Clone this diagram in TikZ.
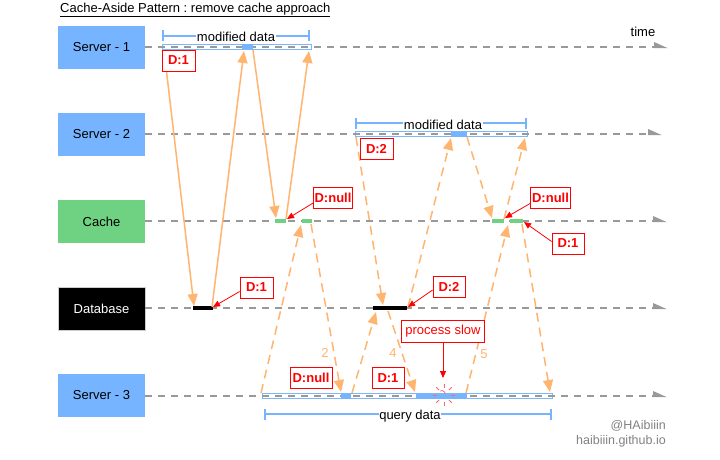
\documentclass[tikz,border=0pt]{standalone}
\usepackage{fontspec}
\setmainfont{Liberation Sans}
\usetikzlibrary{arrows.meta}
\frenchspacing
\definecolor{boxblue}{RGB}{118,180,255}
\definecolor{boxgreen}{RGB}{111,210,130}
\definecolor{flow}{RGB}{255,181,112}
\definecolor{lifegrey}{RGB}{153,153,153}
\definecolor{bandblue}{RGB}{126,182,250}
\definecolor{segblue}{RGB}{118,180,255}
\definecolor{alertred}{RGB}{255,0,0}
\definecolor{markgrey}{RGB}{130,130,130}
\tikzset{
  actor/.style={minimum width=87pt,minimum height=43pt,inner sep=0pt,font=\fontsize{13}{15}\selectfont},
  lifeline/.style={draw=lifegrey,line width=2pt,dash pattern=on 7pt off 6pt},
  lifetip/.style={fill=lifegrey},
  band/.style={draw=bandblue,fill=white,line width=1pt},
  seg/.style={fill=segblue},
  cachebar/.style={fill=boxgreen},
  dbbar/.style={fill=black},
  bracket/.style={draw=segblue,line width=2.8pt,{Bar[width=11pt,line width=2pt]}-{Bar[width=11pt,line width=2pt]}},
  brtext/.style={fill=white,inner sep=0.5pt,font=\fontsize{13}{15}\selectfont},
  callsolid/.style={draw=flow,line width=1.5pt,-{Triangle[length=12pt,width=10pt]}},
  calldash/.style={draw=flow,line width=1.5pt,dash pattern=on 9pt off 6pt,-{Triangle[length=12pt,width=10pt]}},
  tag/.style={draw=alertred,fill=white,line width=0.8pt,text=alertred,font=\bfseries\fontsize{13}{15}\selectfont,inner sep=0pt,minimum height=21pt},
  note/.style={draw=alertred,fill=white,line width=0.8pt,text=alertred,font=\fontsize{13}{15}\selectfont,inner sep=0pt,minimum height=22pt},
  pointer/.style={draw=alertred,line width=0.8pt,-{Triangle[length=7pt,width=6pt]}},
  stepnum/.style={text=flow,font=\fontsize{13}{15}\selectfont,inner sep=0pt},
  wmark/.style={text=markgrey,font=\fontsize{12.5}{15}\selectfont,inner sep=0pt,anchor=east}
}
\begin{document}
\begin{tikzpicture}[x=1pt,y=-1pt]
\useasboundingbox (0,0) rectangle (720,460);
\fill[white] (0,0) rectangle (720,460);

% title
\node[font=\fontsize{13}{15}\selectfont,inner sep=0pt,anchor=west] (title) at (60,10) {\underline{Cache-Aside Pattern : remove cache approach}};

% actors
\node[actor,fill=boxblue] (s1) at (101.5,47.5) {Server - 1};
\node[actor,fill=boxblue] (s2) at (101.5,134.5) {Server - 2};
\node[actor,fill=boxgreen] (ca) at (101.5,221.5) {Cache};
\node[actor,fill=black,text=white,draw=lifegrey!50,line width=0.5pt] (db) at (101.5,308.5) {Database};
\node[actor,fill=boxblue] (s3) at (101.5,395.5) {Server - 3};

\node[font=\fontsize{13}{15}\selectfont,inner sep=0pt] (time) at (643,32) {time};

% bands (under lifelines)
\draw[band] (162,44.5) rectangle (311,49.5);
\draw[band] (355,131.5) rectangle (527,136.5);
\draw[band] (262,393.5) rectangle (552,398.5);

% lifelines
\coordinate (e1) at (654,47);
\coordinate (e2) at (648,134);
\coordinate (e3) at (653,221);
\coordinate (e4) at (653,308);
\coordinate (e5) at (653,396);
\draw[lifeline] (s1.east|-e1) -- (e1);
\draw[lifeline] (s2.east|-e2) -- (e2);
\draw[lifeline] (ca.east|-e3) -- (e3);
\draw[lifeline] (db.east|-e4) -- (e4);
\draw[lifeline] (s3.east|-e5) -- (e5);
\foreach \e in {e1,e2,e3,e4,e5}{
  \fill[lifetip] ([yshift=5pt]\e) -- ([yshift=-1.2pt]\e) -- ([xshift=14pt,yshift=-1.2pt]\e) -- cycle;
}

% active segments
\fill[seg] (242,44.5) rectangle (253,49.5);
\fill[seg] (451,131.5) rectangle (467,136.5);
\fill[seg] (341,393.5) rectangle (351,398.5);
\fill[seg] (416,393.5) rectangle (467,398.5);
\fill[cachebar] (275,219) rectangle (286,223);
\fill[cachebar] (302,219) rectangle (312,223);
\fill[cachebar] (492,219) rectangle (504,223);
\fill[cachebar] (510,219) rectangle (523,223);
\fill[dbbar] (193,306) rectangle (213,310);
\fill[dbbar] (373,306) rectangle (407,310);

% brackets
\draw[bracket] (162,36) -- (310,36);
\node[brtext] (md1) at (236,37) {modified data};
\draw[bracket] (355,123) -- (527,123);
\node[brtext] (md2) at (443,124.5) {modified data};
\draw[bracket] (264,414) -- (552,414);
\node[brtext] (qd) at (410,416) {query data};

% server-1 flow (solid)
\coordinate (p1a) at (164,50);   \coordinate (p1b) at (194,306);
\coordinate (p2a) at (212,307);  \coordinate (p2b) at (244,51);
\coordinate (p3a) at (253,50);   \coordinate (p3b) at (276,218);
\coordinate (p4a) at (286,219);  \coordinate (p4b) at (309,51);
\draw[callsolid] (p1a) -- (p1b);
\draw[callsolid] (p2a) -- (p2b);
\draw[callsolid] (p3a) -- (p3b);
\draw[callsolid] (p4a) -- (p4b);

% server-2 flow (dashed)
\coordinate (q1a) at (356,137);  \coordinate (q1b) at (383,305);
\coordinate (q2a) at (408,307);  \coordinate (q2b) at (451,138);
\coordinate (q3a) at (467,137);  \coordinate (q3b) at (492,218);
\coordinate (q4a) at (504,219);  \coordinate (q4b) at (525,138);
\draw[calldash] (q1a) -- (q1b);
\draw[calldash] (q2a) -- (q2b);
\draw[calldash] (q3a) -- (q3b);
\draw[calldash] (q4a) -- (q4b);

% server-3 flow (dashed)
\coordinate (r1a) at (261,393);  \coordinate (r1b) at (301,225);
\coordinate (r2a) at (311,224);  \coordinate (r2b) at (341,392);
\coordinate (r3a) at (352,393);  \coordinate (r3b) at (376,312);
\coordinate (r4a) at (388,311);  \coordinate (r4b) at (415,392);
\coordinate (r5a) at (466,393);  \coordinate (r5b) at (508,225);
\coordinate (r6a) at (522,224);  \coordinate (r6b) at (550,392);
\draw[calldash] (r1a) -- (r1b);
\draw[calldash] (r2a) -- (r2b);
\draw[calldash] (r3a) -- (r3b);
\draw[calldash] (r4a) -- (r4b);
\draw[calldash] (r5a) -- (r5b);
\draw[calldash] (r6a) -- (r6b);
\node[stepnum] (n2) at (325,353) {2};
\node[stepnum] (n4) at (393,353) {4};
\node[stepnum] (n5) at (484,354) {5};

% tags
\node[tag,minimum width=33pt] (t1) at (178.5,60.5) {D:1};
\node[tag,minimum width=33pt] (t2) at (256.5,287.5) {D:1};
\node[tag,minimum width=39pt] (t3) at (333,198) {D:null};
\node[tag,minimum width=33pt] (t4) at (376.5,149) {D:2};
\node[tag,minimum width=32pt] (t5) at (449,287) {D:2};
\node[tag,minimum width=40pt] (t6) at (550.5,197.5) {D:null};
\node[tag,minimum width=32pt] (t7) at (568,243.5) {D:1};
\node[tag,minimum width=42pt] (t8) at (311,378) {D:null};
\node[tag,minimum width=32pt] (t9) at (388,378) {D:1};
\node[note,minimum width=83pt] (slow) at (443,331) {process slow};

\coordinate (k2) at (213,307);
\coordinate (k3) at (287,219);
\coordinate (k5) at (408,307);
\coordinate (k6) at (505,218);
\coordinate (k7) at (524,222);
\coordinate (k8) at (443,378);
\draw[pointer] ([yshift=-4pt]t2.west) -- (k2);
\draw[pointer] ([yshift=-5pt]t3.west) -- (k3);
\draw[pointer] ([yshift=-3pt]t5.west) -- (k5);
\draw[pointer] ([yshift=-6pt]t6.west) -- (k6);
\draw[pointer] ([yshift=2pt]t7.west) -- (k7);
\draw[pointer] (slow.south) -- (k8);

% slow burst
\coordinate (burst) at (444,395);
\foreach \a in {0,45,...,315}{
  \draw[alertred!60,line width=0.8pt] ([shift={(\a:7pt)}]burst) -- ([shift={(\a:11pt)}]burst);
}
\draw[alertred!60,line width=0.8pt] (440,391) arc[start angle=120,end angle=0,radius=3.5pt];

% watermark
\node[wmark] (w1) at (666,426) {@HAibiiin};
\node[wmark] (w2) at (666,441) {haibiiin.github.io};
\end{tikzpicture}
\end{document}
